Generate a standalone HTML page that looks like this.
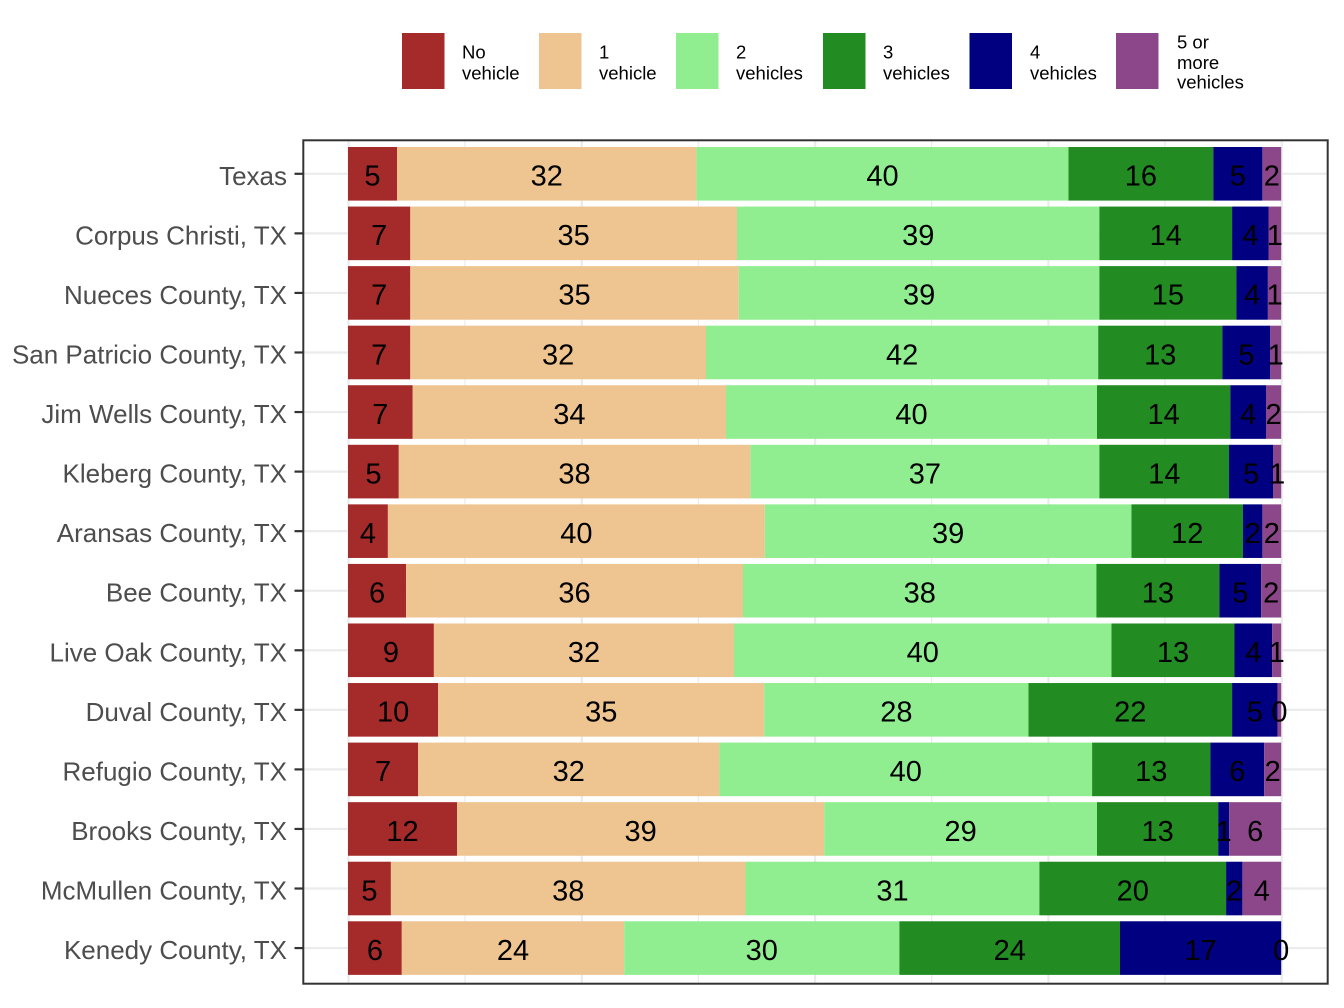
<!DOCTYPE html>
<html>
<head>
<meta charset="utf-8">
<style>
html,body{margin:0;padding:0;background:#fff;}
svg{display:block;}
.ax{font-family:"Liberation Sans",Arial,sans-serif;font-size:26px;fill:#4D4D4D;text-anchor:end;}
.bl{font-family:"Liberation Sans",Arial,sans-serif;font-size:29px;fill:#000;text-anchor:middle;}
.lg{font-family:"Liberation Sans",Arial,sans-serif;font-size:18.5px;fill:#000;}
</style>
</head>
<body>
<svg width="1344" height="1008" viewBox="0 0 1344 1008" xmlns="http://www.w3.org/2000/svg">
<rect x="0" y="0" width="1344" height="1008" fill="#fff"/>

<!-- Legend -->
<rect x="402" y="33" width="42.5" height="56" fill="#A52A2A"/>
<rect x="539" y="33" width="42.5" height="56" fill="#EEC591"/>
<rect x="676" y="33" width="42.5" height="56" fill="#90EE90"/>
<rect x="823" y="33" width="42.5" height="56" fill="#228B22"/>
<rect x="969.5" y="33" width="42.5" height="56" fill="#000080"/>
<rect x="1116" y="33" width="42.5" height="56" fill="#8B4789"/>
<text class="lg" x="462" y="58.7">No</text><text class="lg" x="462" y="79.7">vehicle</text>
<text class="lg" x="599" y="58.7">1</text><text class="lg" x="599" y="79.7">vehicle</text>
<text class="lg" x="736" y="58.7">2</text><text class="lg" x="736" y="79.7">vehicles</text>
<text class="lg" x="883" y="58.7">3</text><text class="lg" x="883" y="79.7">vehicles</text>
<text class="lg" x="1030" y="58.7">4</text><text class="lg" x="1030" y="79.7">vehicles</text>
<text class="lg" x="1177" y="48.3">5 or</text><text class="lg" x="1177" y="68.8">more</text><text class="lg" x="1177" y="88.4">vehicles</text>

<!-- Grid -->
<g stroke="#EBEBEB" stroke-width="1.2">
<line x1="465" y1="141" x2="465" y2="983"/>
<line x1="698.3" y1="141" x2="698.3" y2="983"/>
<line x1="931.6" y1="141" x2="931.6" y2="983"/>
<line x1="1164.9" y1="141" x2="1164.9" y2="983"/>
</g>
<g stroke="#EBEBEB" stroke-width="2.2">
<line x1="348.5" y1="141" x2="348.5" y2="983"/>
<line x1="581.8" y1="141" x2="581.8" y2="983"/>
<line x1="815.1" y1="141" x2="815.1" y2="983"/>
<line x1="1048.4" y1="141" x2="1048.4" y2="983"/>
<line x1="1281.7" y1="141" x2="1281.7" y2="983"/>
<line x1="304" y1="173.8" x2="1327" y2="173.8"/>
<line x1="304" y1="233.36" x2="1327" y2="233.36"/>
<line x1="304" y1="292.92" x2="1327" y2="292.92"/>
<line x1="304" y1="352.48" x2="1327" y2="352.48"/>
<line x1="304" y1="412.04" x2="1327" y2="412.04"/>
<line x1="304" y1="471.6" x2="1327" y2="471.6"/>
<line x1="304" y1="531.16" x2="1327" y2="531.16"/>
<line x1="304" y1="590.72" x2="1327" y2="590.72"/>
<line x1="304" y1="650.28" x2="1327" y2="650.28"/>
<line x1="304" y1="709.84" x2="1327" y2="709.84"/>
<line x1="304" y1="769.4" x2="1327" y2="769.4"/>
<line x1="304" y1="828.96" x2="1327" y2="828.96"/>
<line x1="304" y1="888.52" x2="1327" y2="888.52"/>
<line x1="304" y1="948.08" x2="1327" y2="948.08"/>
</g>

<!-- Bars -->
<g>
<rect x="348" y="147" width="49" height="53.6" fill="#A52A2A"/>
<rect x="397" y="147" width="299.4" height="53.6" fill="#EEC591"/>
<rect x="696.4" y="147" width="372.1" height="53.6" fill="#90EE90"/>
<rect x="1068.5" y="147" width="144.8" height="53.6" fill="#228B22"/>
<rect x="1213.3" y="147" width="49.1" height="53.6" fill="#000080"/>
<rect x="1262.4" y="147" width="18.8" height="53.6" fill="#8B4789"/>

<rect x="348" y="206.56" width="62.3" height="53.6" fill="#A52A2A"/>
<rect x="410.3" y="206.56" width="326.7" height="53.6" fill="#EEC591"/>
<rect x="737" y="206.56" width="362.4" height="53.6" fill="#90EE90"/>
<rect x="1099.4" y="206.56" width="132.7" height="53.6" fill="#228B22"/>
<rect x="1232.1" y="206.56" width="36.4" height="53.6" fill="#000080"/>
<rect x="1268.5" y="206.56" width="12.7" height="53.6" fill="#8B4789"/>

<rect x="348" y="266.12" width="62.3" height="53.6" fill="#A52A2A"/>
<rect x="410.3" y="266.12" width="328.5" height="53.6" fill="#EEC591"/>
<rect x="738.8" y="266.12" width="360.6" height="53.6" fill="#90EE90"/>
<rect x="1099.4" y="266.12" width="137" height="53.6" fill="#228B22"/>
<rect x="1236.4" y="266.12" width="31.5" height="53.6" fill="#000080"/>
<rect x="1267.9" y="266.12" width="13.3" height="53.6" fill="#8B4789"/>

<rect x="348" y="325.68" width="62.3" height="53.6" fill="#A52A2A"/>
<rect x="410.3" y="325.68" width="295.7" height="53.6" fill="#EEC591"/>
<rect x="706" y="325.68" width="392.2" height="53.6" fill="#90EE90"/>
<rect x="1098.2" y="325.68" width="124.2" height="53.6" fill="#228B22"/>
<rect x="1222.4" y="325.68" width="47.9" height="53.6" fill="#000080"/>
<rect x="1270.3" y="325.68" width="10.9" height="53.6" fill="#8B4789"/>

<rect x="348" y="385.24" width="64.7" height="53.6" fill="#A52A2A"/>
<rect x="412.7" y="385.24" width="313.3" height="53.6" fill="#EEC591"/>
<rect x="726" y="385.24" width="371" height="53.6" fill="#90EE90"/>
<rect x="1097" y="385.24" width="133.3" height="53.6" fill="#228B22"/>
<rect x="1230.3" y="385.24" width="35.7" height="53.6" fill="#000080"/>
<rect x="1266" y="385.24" width="15.2" height="53.6" fill="#8B4789"/>

<rect x="348" y="444.8" width="50.8" height="53.6" fill="#A52A2A"/>
<rect x="398.8" y="444.8" width="351.5" height="53.6" fill="#EEC591"/>
<rect x="750.3" y="444.8" width="349.1" height="53.6" fill="#90EE90"/>
<rect x="1099.4" y="444.8" width="129.6" height="53.6" fill="#228B22"/>
<rect x="1229" y="444.8" width="44.3" height="53.6" fill="#000080"/>
<rect x="1273.3" y="444.8" width="7.9" height="53.6" fill="#8B4789"/>

<rect x="348" y="504.36" width="39.9" height="53.6" fill="#A52A2A"/>
<rect x="387.9" y="504.36" width="376.9" height="53.6" fill="#EEC591"/>
<rect x="764.8" y="504.36" width="366.7" height="53.6" fill="#90EE90"/>
<rect x="1131.5" y="504.36" width="111.5" height="53.6" fill="#228B22"/>
<rect x="1243" y="504.36" width="19.4" height="53.6" fill="#000080"/>
<rect x="1262.4" y="504.36" width="18.8" height="53.6" fill="#8B4789"/>

<rect x="348" y="563.92" width="58.1" height="53.6" fill="#A52A2A"/>
<rect x="406.1" y="563.92" width="336.9" height="53.6" fill="#EEC591"/>
<rect x="743" y="563.92" width="353.4" height="53.6" fill="#90EE90"/>
<rect x="1096.4" y="563.92" width="123" height="53.6" fill="#228B22"/>
<rect x="1219.4" y="563.92" width="41.8" height="53.6" fill="#000080"/>
<rect x="1261.2" y="563.92" width="20" height="53.6" fill="#8B4789"/>

<rect x="348" y="623.48" width="85.9" height="53.6" fill="#A52A2A"/>
<rect x="433.9" y="623.48" width="300.1" height="53.6" fill="#EEC591"/>
<rect x="734" y="623.48" width="377.5" height="53.6" fill="#90EE90"/>
<rect x="1111.5" y="623.48" width="123" height="53.6" fill="#228B22"/>
<rect x="1234.5" y="623.48" width="37.6" height="53.6" fill="#000080"/>
<rect x="1272.1" y="623.48" width="9.1" height="53.6" fill="#8B4789"/>

<rect x="348" y="683.04" width="90.2" height="53.6" fill="#A52A2A"/>
<rect x="438.2" y="683.04" width="326" height="53.6" fill="#EEC591"/>
<rect x="764.2" y="683.04" width="264.3" height="53.6" fill="#90EE90"/>
<rect x="1028.5" y="683.04" width="203.6" height="53.6" fill="#228B22"/>
<rect x="1232.1" y="683.04" width="45.5" height="53.6" fill="#000080"/>
<rect x="1277.6" y="683.04" width="3.6" height="53.6" fill="#8B4789"/>

<rect x="348" y="742.6" width="70.2" height="53.6" fill="#A52A2A"/>
<rect x="418.2" y="742.6" width="301.2" height="53.6" fill="#EEC591"/>
<rect x="719.4" y="742.6" width="372.7" height="53.6" fill="#90EE90"/>
<rect x="1092.1" y="742.6" width="118.2" height="53.6" fill="#228B22"/>
<rect x="1210.3" y="742.6" width="53.9" height="53.6" fill="#000080"/>
<rect x="1264.2" y="742.6" width="17" height="53.6" fill="#8B4789"/>

<rect x="348" y="802.16" width="109" height="53.6" fill="#A52A2A"/>
<rect x="457" y="802.16" width="367.2" height="53.6" fill="#EEC591"/>
<rect x="824.2" y="802.16" width="272.8" height="53.6" fill="#90EE90"/>
<rect x="1097" y="802.16" width="121.2" height="53.6" fill="#228B22"/>
<rect x="1218.2" y="802.16" width="10.9" height="53.6" fill="#000080"/>
<rect x="1229.1" y="802.16" width="52.1" height="53.6" fill="#8B4789"/>

<rect x="348" y="861.72" width="42.9" height="53.6" fill="#A52A2A"/>
<rect x="390.9" y="861.72" width="354.6" height="53.6" fill="#EEC591"/>
<rect x="745.5" y="861.72" width="293.9" height="53.6" fill="#90EE90"/>
<rect x="1039.4" y="861.72" width="186.7" height="53.6" fill="#228B22"/>
<rect x="1226.1" y="861.72" width="16.3" height="53.6" fill="#000080"/>
<rect x="1242.4" y="861.72" width="38.8" height="53.6" fill="#8B4789"/>

<rect x="348" y="921.28" width="53.8" height="53.6" fill="#A52A2A"/>
<rect x="401.8" y="921.28" width="222.4" height="53.6" fill="#EEC591"/>
<rect x="624.2" y="921.28" width="275.2" height="53.6" fill="#90EE90"/>
<rect x="899.4" y="921.28" width="220.6" height="53.6" fill="#228B22"/>
<rect x="1120" y="921.28" width="161.2" height="53.6" fill="#000080"/>
</g>

<!-- Bar labels -->
<g>
<text class="bl" x="372.5" y="185.6">5</text><text class="bl" x="546.7" y="185.6">32</text><text class="bl" x="882.45" y="185.6">40</text><text class="bl" x="1140.9" y="185.6">16</text><text class="bl" x="1237.85" y="185.6">5</text><text class="bl" x="1271.8" y="185.6">2</text>
<text class="bl" x="379.15" y="245.16">7</text><text class="bl" x="573.65" y="245.16">35</text><text class="bl" x="918.2" y="245.16">39</text><text class="bl" x="1165.75" y="245.16">14</text><text class="bl" x="1250.3" y="245.16">4</text><text class="bl" x="1274.85" y="245.16">1</text>
<text class="bl" x="379.15" y="304.72">7</text><text class="bl" x="574.55" y="304.72">35</text><text class="bl" x="919.1" y="304.72">39</text><text class="bl" x="1167.9" y="304.72">15</text><text class="bl" x="1252.15" y="304.72">4</text><text class="bl" x="1274.55" y="304.72">1</text>
<text class="bl" x="379.15" y="364.28">7</text><text class="bl" x="558.15" y="364.28">32</text><text class="bl" x="902.1" y="364.28">42</text><text class="bl" x="1160.3" y="364.28">13</text><text class="bl" x="1246.35" y="364.28">5</text><text class="bl" x="1275.75" y="364.28">1</text>
<text class="bl" x="380.35" y="423.84">7</text><text class="bl" x="569.35" y="423.84">34</text><text class="bl" x="911.5" y="423.84">40</text><text class="bl" x="1163.65" y="423.84">14</text><text class="bl" x="1248.15" y="423.84">4</text><text class="bl" x="1273.6" y="423.84">2</text>
<text class="bl" x="373.4" y="483.4">5</text><text class="bl" x="574.55" y="483.4">38</text><text class="bl" x="924.85" y="483.4">37</text><text class="bl" x="1164.2" y="483.4">14</text><text class="bl" x="1251.15" y="483.4">5</text><text class="bl" x="1277.25" y="483.4">1</text>
<text class="bl" x="367.95" y="542.96">4</text><text class="bl" x="576.35" y="542.96">40</text><text class="bl" x="948.15" y="542.96">39</text><text class="bl" x="1187.25" y="542.96">12</text><text class="bl" x="1252.7" y="542.96">2</text><text class="bl" x="1271.8" y="542.96">2</text>
<text class="bl" x="377.05" y="602.52">6</text><text class="bl" x="574.55" y="602.52">36</text><text class="bl" x="919.7" y="602.52">38</text><text class="bl" x="1157.9" y="602.52">13</text><text class="bl" x="1240.3" y="602.52">5</text><text class="bl" x="1271.2" y="602.52">2</text>
<text class="bl" x="390.95" y="662.08">9</text><text class="bl" x="583.95" y="662.08">32</text><text class="bl" x="922.75" y="662.08">40</text><text class="bl" x="1173" y="662.08">13</text><text class="bl" x="1253.3" y="662.08">4</text><text class="bl" x="1276.65" y="662.08">1</text>
<text class="bl" x="393.1" y="721.64">10</text><text class="bl" x="601.2" y="721.64">35</text><text class="bl" x="896.35" y="721.64">28</text><text class="bl" x="1130.3" y="721.64">22</text><text class="bl" x="1254.85" y="721.64">5</text><text class="bl" x="1279.4" y="721.64">0</text>
<text class="bl" x="383.1" y="781.2">7</text><text class="bl" x="568.8" y="781.2">32</text><text class="bl" x="905.75" y="781.2">40</text><text class="bl" x="1151.2" y="781.2">13</text><text class="bl" x="1237.25" y="781.2">6</text><text class="bl" x="1272.7" y="781.2">2</text>
<text class="bl" x="402.5" y="840.76">12</text><text class="bl" x="640.6" y="840.76">39</text><text class="bl" x="960.6" y="840.76">29</text><text class="bl" x="1157.6" y="840.76">13</text><text class="bl" x="1223.65" y="840.76">1</text><text class="bl" x="1255.15" y="840.76">6</text>
<text class="bl" x="369.45" y="900.32">5</text><text class="bl" x="568.2" y="900.32">38</text><text class="bl" x="892.45" y="900.32">31</text><text class="bl" x="1132.75" y="900.32">20</text><text class="bl" x="1234.25" y="900.32">2</text><text class="bl" x="1261.8" y="900.32">4</text>
<text class="bl" x="374.9" y="959.88">6</text><text class="bl" x="513" y="959.88">24</text><text class="bl" x="761.8" y="959.88">30</text><text class="bl" x="1009.7" y="959.88">24</text><text class="bl" x="1200.6" y="959.88">17</text><text class="bl" x="1281.2" y="959.88">0</text>
</g>

<!-- Panel border -->
<rect x="303.3" y="140.3" width="1024.4" height="843.4" fill="none" stroke="#333333" stroke-width="2"/>

<!-- Y ticks -->
<g stroke="#333333" stroke-width="2.2">
<line x1="294.5" y1="173.8" x2="303" y2="173.8"/>
<line x1="294.5" y1="233.36" x2="303" y2="233.36"/>
<line x1="294.5" y1="292.92" x2="303" y2="292.92"/>
<line x1="294.5" y1="352.48" x2="303" y2="352.48"/>
<line x1="294.5" y1="412.04" x2="303" y2="412.04"/>
<line x1="294.5" y1="471.6" x2="303" y2="471.6"/>
<line x1="294.5" y1="531.16" x2="303" y2="531.16"/>
<line x1="294.5" y1="590.72" x2="303" y2="590.72"/>
<line x1="294.5" y1="650.28" x2="303" y2="650.28"/>
<line x1="294.5" y1="709.84" x2="303" y2="709.84"/>
<line x1="294.5" y1="769.4" x2="303" y2="769.4"/>
<line x1="294.5" y1="828.96" x2="303" y2="828.96"/>
<line x1="294.5" y1="888.52" x2="303" y2="888.52"/>
<line x1="294.5" y1="948.08" x2="303" y2="948.08"/>
</g>

<!-- Y labels -->
<text class="ax" x="287" y="184.8">Texas</text>
<text class="ax" x="287" y="244.36">Corpus Christi, TX</text>
<text class="ax" x="287" y="303.92">Nueces County, TX</text>
<text class="ax" x="287" y="363.48">San Patricio County, TX</text>
<text class="ax" x="287" y="423.04">Jim Wells County, TX</text>
<text class="ax" x="287" y="482.6">Kleberg County, TX</text>
<text class="ax" x="287" y="542.16">Aransas County, TX</text>
<text class="ax" x="287" y="601.72">Bee County, TX</text>
<text class="ax" x="287" y="661.28">Live Oak County, TX</text>
<text class="ax" x="287" y="720.84">Duval County, TX</text>
<text class="ax" x="287" y="780.4">Refugio County, TX</text>
<text class="ax" x="287" y="839.96">Brooks County, TX</text>
<text class="ax" x="287" y="899.52">McMullen County, TX</text>
<text class="ax" x="287" y="959.08">Kenedy County, TX</text>
</svg>
</body>
</html>
